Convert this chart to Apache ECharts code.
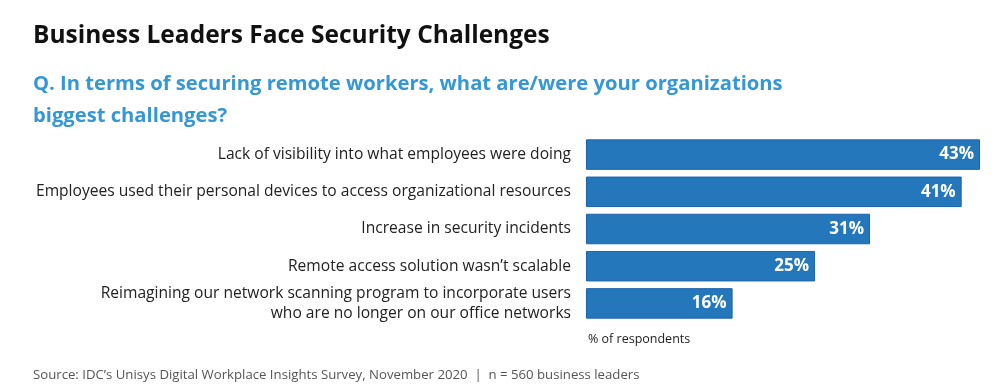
<!DOCTYPE html>
<html>
<head>
<meta charset="utf-8">
<script src="https://cdn.jsdelivr.net/npm/echarts@6/dist/echarts.min.js"></script>
<style>
  html, body { margin: 0; padding: 0; background: #fff; }
  #main { width: 1000px; height: 392px; }
</style>
</head>
<body>
<div id="main"></div>
<script>
// data
var categories = [
  'Lack of visibility into what employees were doing',
  'Employees used their personal devices to access organizational resources',
  'Increase in security incidents',
  'Remote access solution wasn\u2019t scalable',
  'Reimagining our network scanning program to incorporate users\nwho are no longer on our office networks'
];
var values = [43, 41, 31, 25, 16];

var titleText = 'Business Leaders Face Security Challenges';
var questionText = 'Q. In terms of securing remote workers, what are/were your organizations\nbiggest challenges?';
var unitText = '% of respondents';
var sourceText = 'Source: IDC\u2019s Unisys Digital Workplace Insights Survey, November 2020  |  n = 560 business leaders';

var font = '"Open Sans", Lato, sans-serif';

var myChart = echarts.init(document.getElementById('main'));

var option = {
  backgroundColor: '#ffffff',
  title: [
    {
      text: titleText,
      left: 33, top: 24, padding: 0,
      textStyle: { fontFamily: font, fontSize: 24.5, fontWeight: 'bold', color: '#111' }
    },
    {
      text: questionText,
      left: 33, top: 68, padding: 0,
      textStyle: { fontFamily: font, fontSize: 20.2, fontWeight: 'bold', color: '#3497d6', lineHeight: 32 }
    },
    {
      text: unitText,
      left: 588, top: 333, padding: 0,
      textStyle: { fontFamily: font, fontSize: 12.5, fontWeight: 'normal', color: '#222' }
    },
    {
      text: sourceText,
      left: 33, top: 369, padding: 0,
      textStyle: { fontFamily: font, fontSize: 13.2, fontWeight: 'normal', color: '#555' }
    }
  ],
  grid: {
    left: 586,
    right: 20,
    top: 136,
    height: 186,
    containLabel: false
  },
  xAxis: {
    type: 'value',
    min: 0,
    max: 43,
    show: false
  },
  yAxis: {
    type: 'category',
    data: categories,
    inverse: true,
    axisLine: { show: false },
    axisTick: { show: false },
    axisLabel: {
      margin: 15,
      fontFamily: font,
      fontSize: 15.6,
      color: '#222',
      align: 'right',
      lineHeight: 20
    }
  },
  series: [
    {
      type: 'bar',
      data: values,
      barCategoryGap: '18%',
      itemStyle: {
        color: '#2577bc',
        borderColor: '#1b64ab',
        borderWidth: 1
      },
      label: {
        show: true,
        position: 'insideRight',
        distance: 6,
        formatter: '{c}%',
        fontFamily: font,
        fontSize: 17,
        fontWeight: 'bold',
        color: '#ffffff'
      },
      animation: false
    }
  ]
};

myChart.setOption(option);
</script>
</body>
</html>
